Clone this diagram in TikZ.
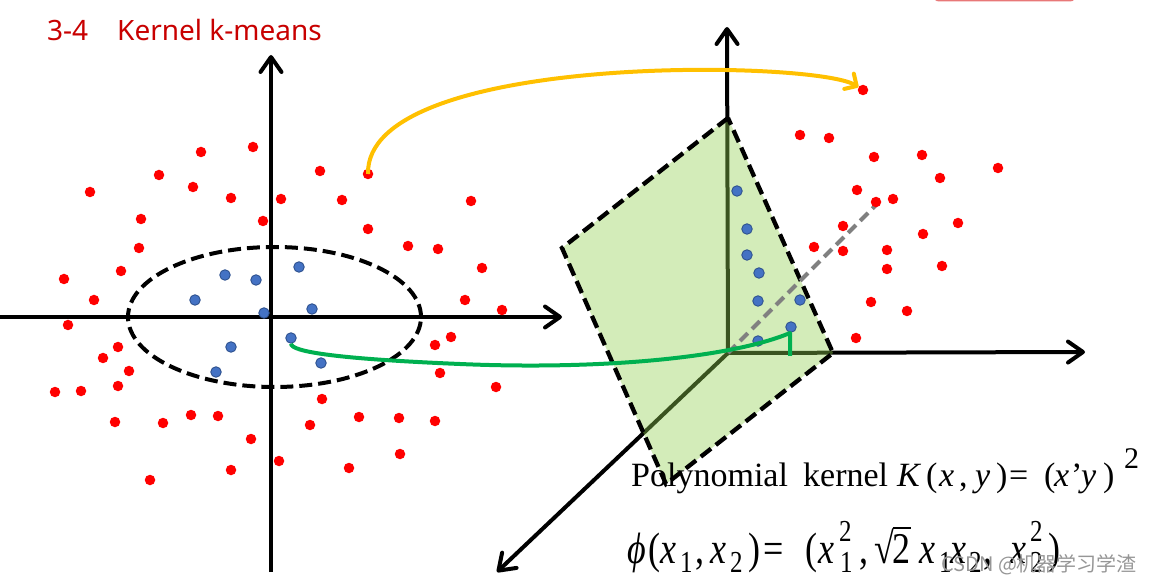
\documentclass[tikz,border=0pt]{standalone}
\usepackage{graphicx}
\usepackage{fontspec}
\setmainfont{Liberation Serif}
\newfontfamily\titlefont{Noto Sans}
\newfontfamily\cjkfont{Noto Sans CJK SC}
\usetikzlibrary{arrows.meta}
\definecolor{ptred}{RGB}{255,0,0}
\definecolor{ptblue}{RGB}{68,114,196}
\definecolor{ptblueedge}{RGB}{47,82,143}
\definecolor{titlered}{RGB}{200,0,0}
\definecolor{planegreen}{RGB}{146,208,80}
\definecolor{curvegreen}{RGB}{0,176,80}
\definecolor{curveorange}{RGB}{255,192,0}
\definecolor{btnred}{RGB}{232,120,120}
\definecolor{dashgray}{RGB}{128,128,128}
\definecolor{wmgray}{RGB}{150,150,150}
\newcommand{\ystr}[1]{\scalebox{1}[1.22]{#1}}
\begin{document}
\begin{tikzpicture}[x=1pt,y=-1pt,
 ax/.style={line width=4pt,-{Straight Barb[length=15pt,width=21pt,round]}},
 rdot/.style={circle,fill=ptred,inner sep=0pt,minimum size=10.5pt},
 bdot/.style={circle,fill=ptblue,draw=ptblueedge,line width=0.9pt,inner sep=0pt,minimum size=10.5pt},
 ell/.style={line width=4pt,dash pattern=on 13pt off 6pt},
 plane/.style={fill=planegreen,fill opacity=0.4,draw=black,draw opacity=1,line width=4.3pt,dash pattern=on 13pt off 6pt},
 grayd/.style={line width=4pt,draw=dashgray,dash pattern=on 11pt off 6pt},
 orangearc/.style={line width=4pt,draw=curveorange,-{Straight Barb[length=9pt,width=18pt,round]}},
 greenarc/.style={line width=4pt,draw=curvegreen,line join=round},
 ttl/.style={inner sep=0pt,anchor=base west,text=titlered,font=\titlefont\fontsize{28}{32}\selectfont},
 fa/.style={inner sep=0pt,anchor=base west,font=\fontsize{34}{40}\selectfont},
 fas/.style={inner sep=0pt,anchor=base west,font=\fontsize{30}{36}\selectfont},
 fb/.style={inner sep=0pt,anchor=base west,font=\fontsize{36}{42}\selectfont},
 fbs/.style={inner sep=0pt,anchor=base west,font=\fontsize{25}{30}\selectfont},
 wm/.style={inner sep=0pt,anchor=base west,text=wmgray,font=\cjkfont\fontsize{20}{24}\selectfont}
]
\useasboundingbox (0,0) rectangle (1149,577);
% top-right button edge
\fill[btnred,rounded corners=6pt] (933,-20) rectangle (1076,1.5);
% title
\node[ttl] (t1) at (47,40.5) {3-4};
\node[ttl] (t2) at (117,40.5) {Kernel k-means};
% left axes
\coordinate (lxs) at (0,317);
\coordinate (lxe) at (562,317);
\coordinate (lys) at (271,572);
\coordinate (lye) at (271,55);
\draw[ax] (lxs) -- (lxe);
\draw[ax] (lys) -- (lye);
\draw[ell] (274.5,317) ellipse [x radius=146.5pt, y radius=70pt];
% left red dots
\foreach \x/\y [count=\i] in {201/152,253/147,159/175,90/192,193/187,231/198,281/199,320/171,342/200,471/201,141/219,263/221,368/229,139/248,408/246,438/249,121/271,64/279,482/268,94/300,465/300,502/310,68/325,451/337,435/345,118/347,103/358,129/371,440/373,55/392,81/391,118/386,496/387,322/399,115/422,163/423,191/415,218/416,310/425,359/417,399/418,435/421,251/439,279/461,231/470,349/468,400/454,150/480}
  \node[rdot] (rl\i) at (\x,\y) {};
\node[rdot] (rsrc) at (368,174) {};
% left blue dots
\foreach \x/\y [count=\i] in {225/275,256/280,299/267,195/300,264/313,312/309,231/347,321/363,216/372}
  \node[bdot] (bl\i) at (\x,\y) {};
\node[bdot] (bsrc) at (291,338) {};
% 3D axes
\coordinate (O) at (728,353);
\coordinate (zt) at (727,27);
\coordinate (xt) at (1085,352);
\coordinate (yt) at (497,572);
\coordinate (gt) at (878,203);
\draw[ax] (O) -- (zt);
\draw[ax] (O) -- (xt);
\draw[ax] (O) -- (yt);
% plane
\coordinate (pT) at (728,118);
\coordinate (pL) at (562,248);
\coordinate (pB) at (666,484);
\coordinate (pR) at (833,353);
\draw[plane] (pT) -- (pL) -- (pB) -- (pR) -- cycle;
\draw[grayd] (O) -- (gt);
% right blue dots
\foreach \x/\y [count=\i] in {737/191,747/229,747/255,759/273,758/301,800/300,791/327,758/341}
  \node[bdot] (br\i) at (\x,\y) {};
% right red dots
\foreach \x/\y [count=\i] in {800/135,829/138,874/157,922/155,998/168,940/178,857/190,876/202,893/199,843/226,958/223,923/234,814/247,843/251,887/250,887/269,942/266,871/302,907/311,856/338}
  \node[rdot] (rr\i) at (\x,\y) {};
\node[rdot] (rdst) at (863,90) {};
% connectors
\draw[orangearc] (rsrc.center) .. controls (365,52) and (815,60) .. (rdst);
\coordinate (gend) at (790,356);
\draw[greenarc] (bsrc.south) .. controls (291,352) and (340,359) .. (460,364) .. controls (600,370) and (730,358) .. (790,333) -- (gend);
% formula line 1
\node[fa] (p1) at (631,486) {Polynomial};
\node[fa] (p2) at (803,486) {kernel};
\node[fa] (p3) at (897,486) {\textit{K}};
\node[fa] (p4) at (926,486) {(};
\node[fa] (p5) at (939,486) {\textit{x}};
\node[fa] (p6) at (959,486) {,};
\node[fa] (p7) at (975,486) {\textit{y}};
\node[fa] (p8) at (996,486) {)};
\node[fa] (p9) at (1009,486) {=};
\node[fa] (p10) at (1044,486) {(};
\node[fa] (p11) at (1054,486) {\textit{x}};
\node[fa] (p12) at (1071,486) {'};
\node[fa] (p13) at (1081,486) {\textit{y}};
\node[fa] (p14) at (1103,486) {)};
\node[fas] (p15) at (1124,468) {2};
% formula line 2
\node[fb] (q1) at (627,563) {\ystr{\textit{ϕ}}};
\node[fb] (q2) at (648,563) {\ystr{(}};
\node[fb] (q3) at (660,563) {\ystr{\textit{x}}};
\node[fbs] (q4) at (680,572) {\ystr{1}};
\node[fb] (q5) at (695,563) {\ystr{,}};
\node[fb] (q6) at (710,563) {\ystr{\textit{x}}};
\node[fbs] (q7) at (730,572) {\ystr{2}};
\node[fb] (q8) at (748,563) {\ystr{)}};
\node[fb] (q9) at (763,563) {\ystr{=}};
\node[fb] (q10) at (805,563) {\ystr{(}};
\node[fb] (q11) at (818,563) {\ystr{\textit{x}}};
\node[fbs] (q12) at (839,541) {\ystr{2}};
\node[fbs] (q13) at (840,572) {\ystr{1}};
\node[fb] (q14) at (859,563) {\ystr{,}};
\node[fb] (q15) at (874,563) {\ystr{√\kern-0.04em\makebox[0pt][l]{\rule[0.78em]{0.52em}{0.045em}}2}};
\node[fb] (q16) at (919,563) {\ystr{\textit{x}}};
\node[fbs] (q17) at (939,572) {\ystr{1}};
\node[fb] (q18) at (950,563) {\ystr{\textit{x}}};
\node[fbs] (q19) at (969,572) {\ystr{2}};
\node[fb] (q20) at (983,563) {\ystr{,}};
\node[fb] (q21) at (1010,563) {\ystr{\textit{x}}};
\node[fbs] (q22) at (1030,541) {\ystr{2}};
\node[fbs] (q23) at (1030,572) {\ystr{2}};
\node[fb] (q24) at (1048,563) {\ystr{)}};
% watermark
\node[wm] (wmk) at (941,571) {CSDN @机器学习学渣};
\end{tikzpicture}
\end{document}
